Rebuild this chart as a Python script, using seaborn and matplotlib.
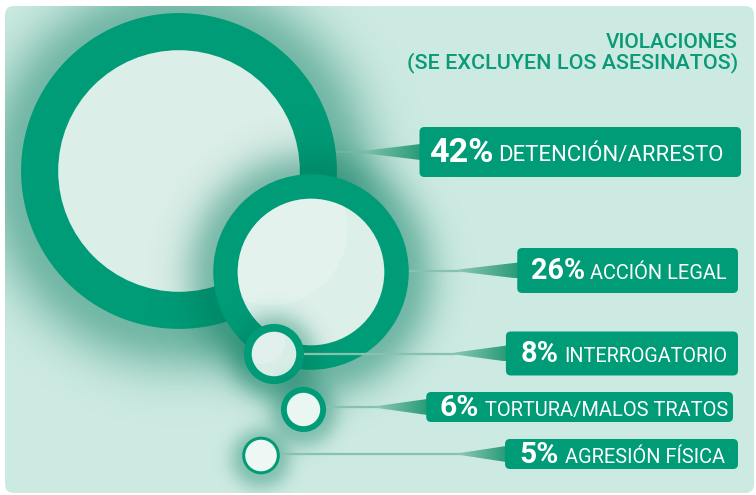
import numpy as np
import matplotlib
matplotlib.use("Agg")
import matplotlib.pyplot as plt
from matplotlib.patches import Circle, FancyBboxPatch, Polygon
import seaborn as sns

# ---- data ----
categories = ["DETENCIÓN/ARRESTO", "ACCIÓN LEGAL", "INTERROGATORIO",
              "TORTURA/MALOS TRATOS", "AGRESIÓN FÍSICA"]
shares = [42, 26, 8, 6, 5]
title_lines = ["VIOLACIONES", "(SE EXCLUYEN LOS ASESINATOS)"]

# ---- layout (pixel units) ----
W, H = 756, 495
px_per_pct = 3.76                       # circle radius grows with the share
circle_xy = [(179, 171), (311, 272), (274, 354), (303.5, 409.5), (261, 455.5)]
ring_frac = [0.235, 0.25, 0.26, 0.26, 0.16]
inner_col = ["#dbeee8", "#dcefe9", "#d9ede7", "#eaf6f2", "#edf7f4"]
box_y = [152, 270.5, 353.5, 407, 454]
box_h = [50, 45, 44, 30, 30]
box_right = [741, 738, 738, 733, 738]
pad_left = [10, 14, 15, 14, 15]
wedge_len = [57, 59, 51, 49, 45]
text_right = [723, 727, 727, 728, 725]
lab_w = [194, 118, 141, 211, 139]       # text widths in the reference
pct_w = [56, 47, 33, 34, 34]
title_w = [122, 305]
grow = 1.15                              # our font is wider than the original

GREEN = "#009b77"
PANEL = "#cdeae2"

sns.set_theme(style="white")
plt.rcParams["font.family"] = ["Roboto", "DejaVu Sans"]

fig = plt.figure(figsize=(7.56, 4.95), dpi=100)
fig.patch.set_facecolor("white")
ax = fig.add_axes([0, 0, 1, 1])
ax.set_xlim(0, W)
ax.set_ylim(H, 0)
ax.axis("off")
renderer = fig.canvas.get_renderer()


def fit_text(x, y, s, width, **kw):
    t = ax.text(x, y, s, fontsize=10, ha="right", va="baseline", **kw)
    w = t.get_window_extent(renderer).width
    t.set_fontsize(10 * width / w)
    return t


panel = FancyBboxPatch((5, 6), 749, 487, boxstyle="round,pad=0,rounding_size=9",
                       fc=PANEL, ec="none", zorder=0)
ax.add_patch(panel)

# label boxes first, so the connectors know where the boxes start
box_left = []
for i, (val, lab) in enumerate(zip(shares, categories)):
    base = box_y[i] + 0.19 * box_h[i] if box_h[i] > 35 else box_y[i] + 9
    lw_ = lab_w[i] * grow
    pw_ = pct_w[i] * grow
    fit_text(text_right[i], base, lab, lw_, color="white", zorder=101)
    fit_text(text_right[i] - lw_ - 6, base, f"{val}%", pw_,
             color="white", fontweight="bold", zorder=101)
    left = text_right[i] - lw_ - 6 - pw_ - pad_left[i]
    box_left.append(left)
    ax.add_patch(FancyBboxPatch((left, box_y[i] - box_h[i] / 2), box_right[i] - left,
                                box_h[i], boxstyle="round,pad=0,rounding_size=5",
                                fc=GREEN, ec="none", zorder=100))

yy, xx = np.mgrid[0:H, 0:W] + 0.5

for i, (val, (cx, cy)) in enumerate(zip(shares, circle_xy)):
    r = val * px_per_pct
    z = 10 * (i + 1)
    # soft shadow
    d = np.hypot(xx - cx, yy - (cy + 3))
    s = 8 + 0.15 * r
    amp = 0.44 if i < 2 else 0.34
    a = amp * np.exp(-np.clip(d - r + 2, 0, None) ** 2 / (2 * s ** 2))
    img = np.zeros((H, W, 4))
    img[..., 0], img[..., 1], img[..., 2] = 0.0, 0.47, 0.35
    img[..., 3] = a
    im = ax.imshow(img, extent=(0, W, H, 0), origin="upper", zorder=z,
                   interpolation="bilinear")
    im.set_clip_path(panel)

    # connector line + tapered wedge
    ly = box_y[i]
    bl = box_left[i]
    wx = bl - wedge_len[i]
    ax.plot([cx, wx + 2], [ly, ly], color="#86c2ad", lw=1.6,
            zorder=z + 1, solid_capstyle="butt")
    hw = 8
    wedge = Polygon([(wx, ly - 1), (bl + 1, ly - hw), (bl + 1, ly + hw), (wx, ly + 1)],
                    closed=True, fc="none", ec="none", zorder=z + 1)
    ax.add_patch(wedge)
    grad = np.linspace(0, 1, 64)[None, :]
    c0 = np.array([0.55, 0.78, 0.70])
    c1 = np.array([0.16, 0.61, 0.47])
    gimg = np.ones((2, 64, 3)) * (c0 + (c1 - c0) * grad[..., None])
    gim = ax.imshow(gimg, extent=(wx, bl + 1, ly + hw, ly - hw),
                    origin="upper", zorder=z + 1, interpolation="bilinear")
    gim.set_clip_path(wedge)
    ax.set_xlim(0, W)
    ax.set_ylim(H, 0)

    # ring + inner disk
    ax.add_patch(Circle((cx, cy), r, fc=GREEN, ec="none", zorder=z + 2))
    ri = r * (1 - ring_frac[i])
    inner = Circle((cx, cy), ri, fc=inner_col[i], ec="none", zorder=z + 3)
    ax.add_patch(inner)
    if i in (1, 2):
        gloss = Circle((cx - 0.55 * ri, cy - 0.6 * ri), 1.05 * ri, fc="white",
                       ec="none", alpha=0.22, zorder=z + 4)
        ax.add_patch(gloss)
        gloss.set_clip_path(inner)

# title
fit_text(738, 48, title_lines[0], title_w[0] * 1.08, color="#0b9a78",
         fontweight="medium", zorder=101)
fit_text(738, 68, title_lines[1], title_w[1] * 1.08, color="#0b9a78",
         fontweight="medium", zorder=101)

fig.savefig("out.png", dpi=100, facecolor="white")
